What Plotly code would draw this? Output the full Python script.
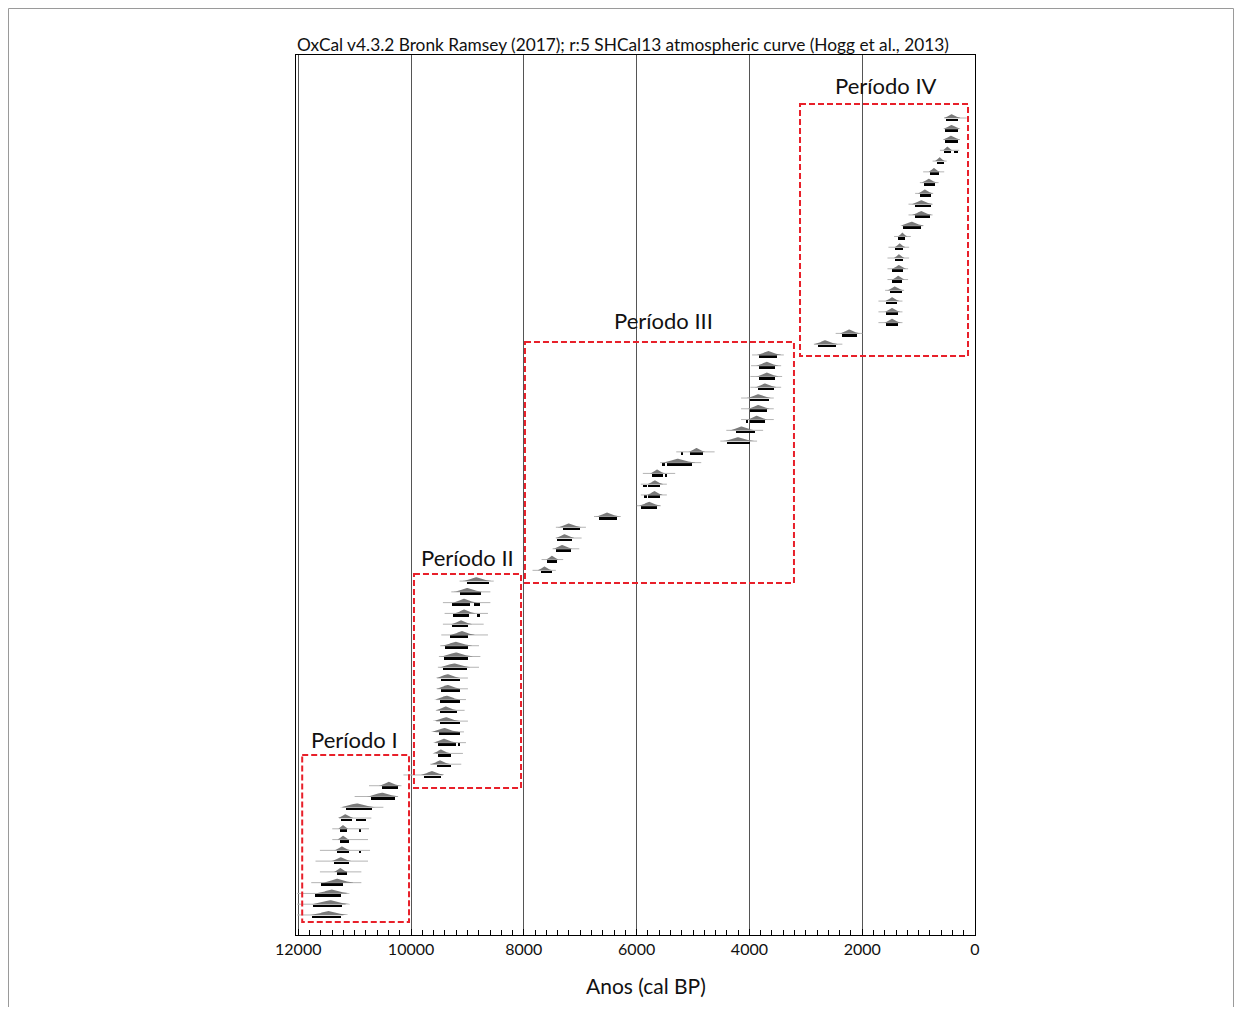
import numpy as np
import plotly.graph_objects as go

# ---------------- data (years cal BP), rows ordered top -> bottom ----------------
median = [409, 410, 420, 485, 622, 723, 812, 883, 942, 948, 1120, 1286, 1333, 1345, 1345, 1357, 1417, 1464, 1464, 1464, 2222, 2649,
          3657, 3686, 3686, 3716, 3835, 3835, 3864, 4131, 4190, 4931, 5257, 5631, 5672, 5680, 5773, 6520, 7195, 7272, 7313, 7497, 7628,
          8831, 8991, 9050, 9050, 9109, 9091, 9198, 9198, 9228, 9346, 9346, 9364, 9375, 9375, 9405, 9405, 9464, 9482, 9624,
          10389, 10508, 10953, 11160, 11201, 11201, 11219, 11237, 11249, 11296, 11397, 11427, 11456]

range_young = [297, 297, 308, 427, 546, 646, 706, 782, 782, 800, 960, 1239, 1275, 1275, 1275, 1298, 1298, 1375, 1357, 1357, 2086, 2459,
               3508, 3538, 3538, 3568, 3657, 3686, 3716, 3894, 3983, 4824, 5020, 5535, 5583, 5583, 5642, 6353, 7005, 7153, 7171, 7420, 7509,
               8618, 8753, 8949, 8973, 8991, 8991, 8991, 8991, 9009, 9139, 9139, 9139, 9186, 9127, 9139, 9210, 9286, 9286, 9464,
               10229, 10289, 10686, 11041, 11130, 11100, 11100, 11100, 11142, 11201, 11249, 11219, 11249]

range_old = [516, 528, 533, 546, 681, 800, 912, 978, 1061, 1061, 1275, 1364, 1417, 1417, 1464, 1464, 1511, 1570, 1570, 1570, 2352, 2779,
             3835, 3835, 3835, 3853, 3983, 3983, 3983, 4232, 4397, 5050, 5464, 5730, 5791, 5791, 5926, 6662, 7313, 7408, 7432, 7586, 7704,
             9009, 9139, 9269, 9258, 9269, 9316, 9405, 9423, 9435, 9464, 9464, 9482, 9482, 9494, 9506, 9524, 9524, 9542, 9779,
             10508, 10704, 11160, 11249, 11260, 11260, 11320, 11367, 11320, 11605, 11711, 11734, 11752]

# secondary (disjoint) range segments: row number (1-based), young, old
extra_row = [4, 29, 32, 33, 34, 35, 36, 46, 47, 59, 66, 67, 69]
extra_young = [308, 4020, 5180, 5494, 5464, 5819, 5819, 8783, 8783, 9139, 10805, 10894, 10881]
extra_old = [368, 4060, 5215, 5553, 5494, 5890, 5870, 8890, 8831, 9169, 10982, 10923, 10923]

line_young = [148, 279, 267, 279, 503, 546, 646, 741, 752, 752, 919, 1138, 1168, 1168, 1186, 1186, 1257, 1286, 1286, 1286, 1997, 2352,
              3390, 3437, 3420, 3437, 3568, 3568, 3568, 3757, 3864, 4617, 4854, 5316, 5464, 5464, 5571, 6282, 6899, 6975, 7017, 7302, 7432,
              8534, 8593, 8593, 8636, 8712, 8636, 8795, 8771, 8795, 8991, 8991, 9026, 9050, 8991, 9062, 9026, 9080, 9109, 9435,
              10170, 10229, 10490, 10704, 10745, 10763, 10727, 10763, 10881, 10881, 11142, 11160, 11201]

line_old = [546, 546, 557, 622, 752, 919, 978, 1061, 1179, 1179, 1298, 1435, 1535, 1552, 1552, 1552, 1594, 1712, 1712, 1712, 2471, 2857,
            3953, 3971, 3983, 3983, 4148, 4148, 4148, 4410, 4516, 5298, 5583, 5890, 5926, 5926, 5997, 6756, 7432, 7432, 7491, 7686, 7846,
            9139, 9286, 9435, 9405, 9435, 9464, 9482, 9506, 9524, 9542, 9542, 9553, 9553, 9553, 9566, 9566, 9553, 9660, 10135,
            10745, 11000, 11219, 11278, 11397, 11397, 11616, 11694, 11616, 11770, 12019, 12019, 12019]

periods = ["Período I", "Período II", "Período III", "Período IV"]
period_x0 = [11930, 9948, 7980, 3103]
period_x1 = [10036, 8050, 3210, 124]
period_row0 = [60.15, 43.34, 21.8, -0.3]
period_row1 = [75.65, 63.21, 44.18, 23.1]
label_x = [10994, 8999, 5515, 1578]
label_row = [58.75, 41.85, 19.76, -2.06]

tick_vals = [0, 2000, 4000, 6000, 8000, 10000, 12000]
tick_text = ["0", "2000", "4000", "6000", "8000", "10000", "12000"]
title_text = "OxCal v4.3.2 Bronk Ramsey (2017); r:5 SHCal13 atmospheric curve (Hogg et al., 2013)"
x_title = "Anos (cal BP)"

# ---------------- build marks ----------------
n = len(median)
rows = np.arange(1, n + 1)

lx, ly = [], []
for r, a, b in zip(rows, line_young, line_old):
    lx += [a, b, None]
    ly += [r, r, None]

hx, hy = [], []
H = 0.36
for r, m, a, b in zip(rows, median, range_young, range_old):
    sd = max((b - a) / 3.92, 15)
    xs = np.linspace(m - 2.6 * sd, m + 2.6 * sd, 40)
    ys = r - H * np.exp(-0.5 * ((xs - m) / sd) ** 2)
    hx += list(xs) + [xs[-1], xs[0], None]
    hy += list(ys) + [r, r, None]

fig = go.Figure()
fig.add_trace(go.Scatter(x=lx, y=ly, mode="lines", line=dict(color="#b4b4b4", width=1),
                         hoverinfo="skip", showlegend=False))
fig.add_trace(go.Scatter(x=hx, y=hy, mode="lines", fill="toself", fillcolor="#7a7a7a",
                         line=dict(width=0, color="#7a7a7a"), hoverinfo="skip", showlegend=False))

bar_base = [min(a, b) for a, b in zip(range_young, range_old)]
bar_len = [abs(b - a) for a, b in zip(range_young, range_old)]
fig.add_trace(go.Bar(orientation="h", y=rows + 0.17, x=bar_len, base=bar_base, width=0.24,
                     marker=dict(color="black", line=dict(width=0)), showlegend=False))
fig.add_trace(go.Bar(orientation="h", y=np.array(extra_row) + 0.17,
                     x=[b - a for a, b in zip(extra_young, extra_old)], base=extra_young, width=0.24,
                     marker=dict(color="black", line=dict(width=0)), showlegend=False))

# ---------------- layout (page body has an 8px margin) ----------------
OFF = 8
W, Hh = 1243 - 2 * OFF, 1015 - 2 * OFF
L, T, R, B = 296 - OFF, 55 - OFF, 975 - OFF, 935 - OFF
pw, ph = R - L, B - T


def px(sx):
    return (sx - OFF - L) / pw


def py(sy):
    return (B - (sy - OFF)) / ph


shapes = []
for x0, x1, r0, r1 in zip(period_x0, period_x1, period_row0, period_row1):
    shapes.append(dict(type="rect", xref="x", yref="y", x0=x0, x1=x1, y0=r0, y1=r1,
                       line=dict(color="#e8202a", width=2, dash="6px,3px"), fillcolor="rgba(0,0,0,0)"))
# outer frame (top, left, right)
fx0, fx1 = (0.5 - L) / pw, (W - 1.5 - L) / pw
fy0, fy1 = (B - (Hh + 5)) / ph, (B - 0.5) / ph
frame = dict(color="#9a9a9a", width=1)
shapes.append(dict(type="line", xref="paper", yref="paper", x0=fx0, x1=fx1, y0=fy1, y1=fy1, line=frame))
shapes.append(dict(type="line", xref="paper", yref="paper", x0=fx0, x1=fx0, y0=fy0, y1=fy1, line=frame))
shapes.append(dict(type="line", xref="paper", yref="paper", x0=fx1, x1=fx1, y0=fy0, y1=fy1, line=frame))

annotations = []
for t, x, r in zip(periods, label_x, label_row):
    annotations.append(dict(x=x, y=r, xref="x", yref="y", text=t, showarrow=False,
                            xanchor="center", yanchor="middle",
                            font=dict(family="Lato", size=22, color="#111")))
annotations.append(dict(x=px(622.5), y=py(44), xref="paper", yref="paper", text=title_text,
                        showarrow=False, xanchor="center", yanchor="middle",
                        font=dict(family="Lato", size=17.3, color="#111")))
annotations.append(dict(x=px(646), y=py(986), xref="paper", yref="paper", text=x_title,
                        showarrow=False, xanchor="center", yanchor="middle",
                        font=dict(family="Lato", size=21, color="#111")))

fig.update_layout(
    width=W, height=Hh,
    margin=dict(l=L, r=W - R, t=T, b=Hh - B, pad=0),
    paper_bgcolor="white", plot_bgcolor="white",
    barmode="overlay", bargap=0,
    shapes=shapes, annotations=annotations,
    xaxis=dict(range=[12040, 0], tickmode="array", tickvals=tick_vals, ticktext=tick_text,
               ticks="inside", ticklen=6, tickcolor="black",
               showgrid=True, gridcolor="#555555", gridwidth=1, zeroline=False,
               showline=True, mirror=True, linecolor="black", linewidth=1,
               tickfont=dict(family="Lato", size=16, color="#111"),
               minor=dict(tickmode="linear", tick0=0, dtick=200, ticks="inside", ticklen=5,
                          tickcolor="black", showgrid=False)),
    yaxis=dict(range=[76.86, -4.85], showticklabels=False, ticks="", showgrid=False, zeroline=False,
               showline=True, mirror=True, linecolor="black", linewidth=1),
    font=dict(family="Lato"),
)

fig.write_html("out.html")
